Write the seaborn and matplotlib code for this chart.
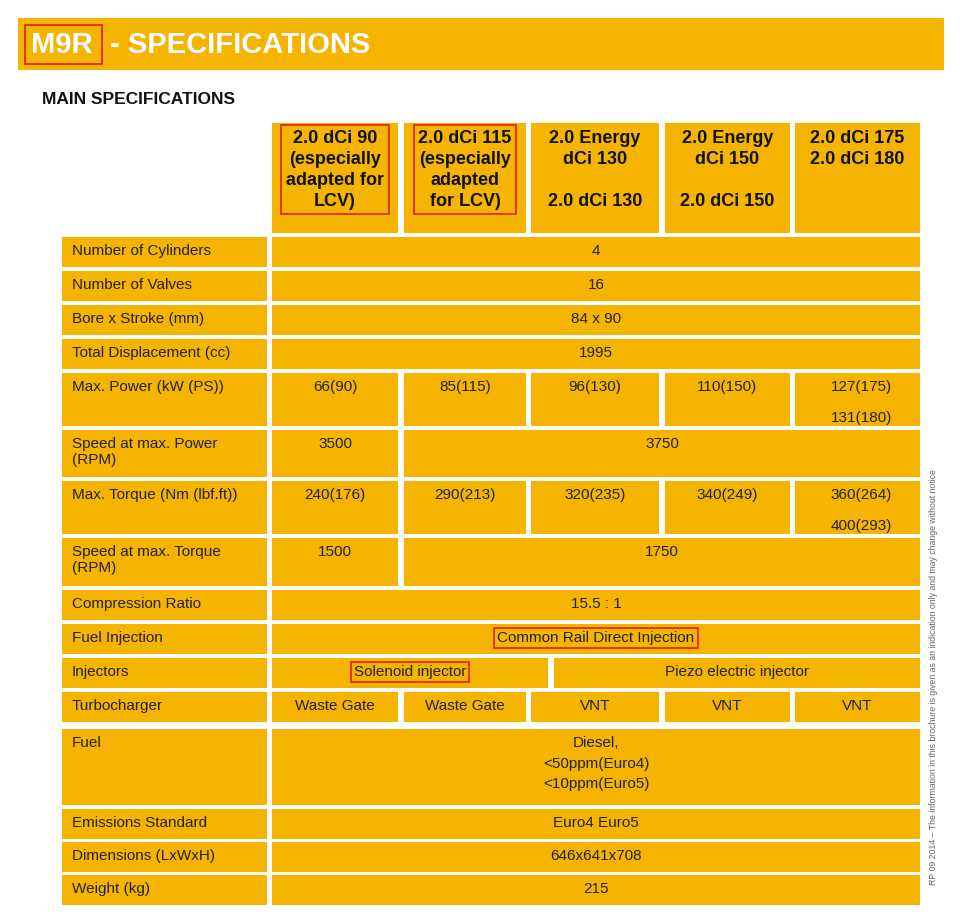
import matplotlib
matplotlib.use('Agg')
import matplotlib.pyplot as plt
from matplotlib.patches import Rectangle
import seaborn as sns

sns.set_style('white')
plt.rcParams['font.family'] = ['Liberation Sans', 'DejaVu Sans']

# ---------------- data ----------------
title_code = "M9R"
title_rest = " - SPECIFICATIONS"
section_title = "MAIN SPECIFICATIONS"
engine_headers = [
    "2.0 dCi 90\n(especially\nadapted for\nLCV)",
    "2.0 dCi 115\n(especially\nadapted\nfor LCV)",
    "2.0 Energy\ndCi 130\n\n2.0 dCi 130",
    "2.0 Energy\ndCi 150\n\n2.0 dCi 150",
    "2.0 dCi 175\n2.0 dCi 180",
]
header_boxed = [True, True, False, False, False]
row_labels = [
    "Number of Cylinders", "Number of Valves", "Bore x Stroke (mm)",
    "Total Displacement (cc)", "Max. Power (kW (PS))", "Speed at max. Power\n(RPM)",
    "Max. Torque (Nm (lbf.ft))", "Speed at max. Torque\n(RPM)", "Compression Ratio",
    "Fuel Injection", "Injectors", "Turbocharger", "Fuel",
    "Emissions Standard", "Dimensions (LxWxH)", "Weight (kg)",
]
# each row: list of (text, first column, last column)
row_values = [
    [("4", 0, 4)],
    [("16", 0, 4)],
    [("84 x 90", 0, 4)],
    [("1995", 0, 4)],
    [("66(90)", 0, 0), ("85(115)", 1, 1), ("96(130)", 2, 2), ("110(150)", 3, 3), ("127(175)\n\n131(180)", 4, 4)],
    [("3500", 0, 0), ("3750", 1, 4)],
    [("240(176)", 0, 0), ("290(213)", 1, 1), ("320(235)", 2, 2), ("340(249)", 3, 3), ("360(264)\n\n400(293)", 4, 4)],
    [("1500", 0, 0), ("1750", 1, 4)],
    [("15.5 : 1", 0, 4)],
    [("Common Rail Direct Injection", 0, 4)],
    [("Solenoid injector", 0, 1), ("Piezo electric injector", 2, 4)],
    [("Waste Gate", 0, 0), ("Waste Gate", 1, 1), ("VNT", 2, 2), ("VNT", 3, 3), ("VNT", 4, 4)],
    [("Diesel,\n<50ppm(Euro4)\n<10ppm(Euro5)", 0, 4)],
    [("Euro4 Euro5", 0, 4)],
    [("646x641x708", 0, 4)],
    [("215", 0, 4)],
]
boxed_values = {"Common Rail Direct Injection", "Solenoid injector"}
side_note = "RP 09 2014 \u2013 The information in this brochure is given as an indication only and may change without notice"

# ---------------- layout (pixels) ----------------
ORANGE = "#F5B400"
col_left = [272, 404, 531, 665, 795]
col_right = [398, 526, 659, 790, 920]
row_tops = [237, 271, 305, 339, 373, 430, 481, 538, 590, 624, 658, 692, 729, 809, 842, 875]
row_bots = [267, 301, 335, 369, 426, 477, 534, 586, 620, 654, 688, 722, 805, 839, 872, 905]
injector_split = (548, 554)

fig = plt.figure(figsize=(9.6, 9.18), dpi=100)
ax = fig.add_axes([0, 0, 1, 1])
ax.set_xlim(0, 960)
ax.set_ylim(918, 0)
ax.axis('off')

# header band
ax.add_patch(Rectangle((18, 18), 926, 52, color=ORANGE, lw=0))
ax.text(31, 45, title_code, color='white', fontsize=21, fontweight='bold', va='center')
ax.add_patch(Rectangle((25, 25), 77, 39, fill=False, ec='#E0201A', lw=1.2))
ax.text(102, 45, title_rest, color='white', fontsize=21, fontweight='bold', va='center')
ax.text(42, 99, section_title, fontsize=12.5, fontweight='bold', va='center', color='#111111')

# engine header cells
for i, txt in enumerate(engine_headers):
    ax.add_patch(Rectangle((col_left[i], 123), col_right[i] - col_left[i], 110, color=ORANGE, lw=0))
    kw = {}
    if header_boxed[i]:
        kw['bbox'] = dict(boxstyle='square,pad=0.25', fc='none', ec='#E0201A', lw=1.2)
    ax.text((col_left[i] + col_right[i]) / 2, 130, txt, ha='center', va='top',
            fontsize=13, fontweight='bold', color='#111111', linespacing=1.3, **kw)

# spec rows
for r, label in enumerate(row_labels):
    top, bot = row_tops[r], row_bots[r]
    ax.add_patch(Rectangle((62, top), 205, bot - top, color=ORANGE, lw=0))
    ax.text(72, top + 7, label, ha='left', va='top', fontsize=11, color='#222222', linespacing=1.15)
    for txt, c0, c1 in row_values[r]:
        x0, x1 = col_left[c0], col_right[c1]
        if label == "Injectors":
            if c1 == 1:
                x1 = injector_split[0]
            if c0 == 2:
                x0 = injector_split[1]
        ax.add_patch(Rectangle((x0, top), x1 - x0, bot - top, color=ORANGE, lw=0))
        kw = {}
        if txt in boxed_values:
            kw['bbox'] = dict(boxstyle='square,pad=0.2', fc='none', ec='#E0201A', lw=1.2)
        ha, xt = 'center', (x0 + x1) / 2
        if '\n\n' in txt:
            ha, xt = 'right', x1 - 28
        ax.text(xt, top + 7, txt, ha=ha, va='top', fontsize=11, color='#222222',
                linespacing=1.15 if '\n\n' in txt else 1.6, **kw)

ax.text(934, 885, side_note, rotation=90, ha='center', va='bottom', fontsize=6.3, color='#666666')

fig.savefig('out.png', dpi=100)
